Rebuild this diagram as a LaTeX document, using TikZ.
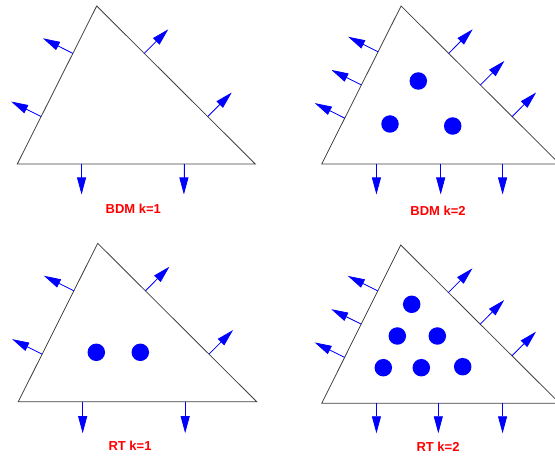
\documentclass[tikz,border=0pt]{standalone}
\usepackage{fontspec}
\setmainfont{Liberation Sans}
\usepackage{tikz}
\usetikzlibrary{calc,arrows.meta}
\tikzset{
  tri/.style  ={draw=black!75,line width=0.8pt,line join=miter},
  nrm/.style  ={-{Triangle[length=17pt,width=9pt]},draw=blue,fill=blue,line width=0.8pt},
  dof/.style  ={circle,fill=blue,inner sep=0pt,minimum size=17.5pt},
  lbl/.style  ={text=red,font=\fontsize{13}{15}\selectfont\bfseries},
}
% normals on edge #1--#2 at the fractions #3, length #4
\newcommand\edgenormals[4]{%
  \foreach \t in {#3}
    \draw[nrm] ($(#1)!\t!(#2)$) -- ($($(#1)!\t!(#2)$)!#4!90:(#2)$);}

\begin{document}
\begin{tikzpicture}[x=1pt,y=-1pt]
  \clip (0,0) rectangle (555,457);

  % BDM k=1
  \begin{scope}[shift={(17.3,164)}]
    \coordinate (tlL) at (0,0);
    \coordinate (tlA) at (79.4,-158);
    \coordinate (tlR) at (238,0);
    \draw[tri] (tlL) -- (tlA) -- (tlR) -- cycle;
    \edgenormals{tlL}{tlA}{0.3,0.7}{33.5pt}
    \edgenormals{tlA}{tlR}{0.3,0.7}{34pt}
    \edgenormals{tlR}{tlL}{0.3,0.73}{30.5pt}
  \end{scope}
  \node[lbl] (labtl) at (133.3,209) {BDM k=1};

  % BDM k=2
  \begin{scope}[shift={(321.7,164)}]
    \coordinate (trL) at (0,0);
    \coordinate (trA) at (79.4,-158);
    \coordinate (trR) at (238,0);
    \draw[tri] (trL) -- (trA) -- (trR) -- cycle;
    \edgenormals{trL}{trA}{0.29,0.5,0.71}{33.5pt}
    \edgenormals{trA}{trR}{0.3,0.5,0.7}{34pt}
    \edgenormals{trR}{trL}{0.24,0.5,0.77}{30.5pt}
    \node[dof] (tr1) at (96.6,-83) {};
    \node[dof] (tr2) at (68.3,-40) {};
    \node[dof] (tr3) at (131,-38) {};
  \end{scope}
  \node[lbl] (labtr) at (438,211) {BDM k=2};

  % RT k=1
  \begin{scope}[shift={(18.3,401.7)}]
    \coordinate (blL) at (0,0);
    \coordinate (blA) at (79.4,-158.4);
    \coordinate (blR) at (238.4,0);
    \draw[tri] (blL) -- (blA) -- (blR) -- cycle;
    \edgenormals{blL}{blA}{0.3,0.7}{33.5pt}
    \edgenormals{blA}{blR}{0.3,0.7}{34pt}
    \edgenormals{blR}{blL}{0.3,0.73}{31.5pt}
    \node[dof] (bl1) at (78,-49.4) {};
    \node[dof] (bl2) at (122,-49.4) {};
  \end{scope}
  \node[lbl] (labbl) at (130,446) {RT k=1};

  % RT k=2
  \begin{scope}[shift={(321.7,403.3)}]
    \coordinate (brL) at (0,0);
    \coordinate (brA) at (79,-158.3);
    \coordinate (brR) at (238,0);
    \draw[tri] (brL) -- (brA) -- (brR) -- cycle;
    \edgenormals{brL}{brA}{0.29,0.5,0.71}{33.5pt}
    \edgenormals{brA}{brR}{0.3,0.5,0.7}{34pt}
    \edgenormals{brR}{brL}{0.24,0.51,0.77}{30pt}
    \node[dof] (br1) at (90,-99) {};
    \node[dof] (br2) at (75.6,-67.3) {};
    \node[dof] (br3) at (115.6,-67.3) {};
    \node[dof] (br4) at (61.6,-35.6) {};
    \node[dof] (br5) at (99.6,-35.6) {};
    \node[dof] (br6) at (141,-36.6) {};
  \end{scope}
  \node[lbl] (labbr) at (438,447) {RT k=2};
\end{tikzpicture}
\end{document}
